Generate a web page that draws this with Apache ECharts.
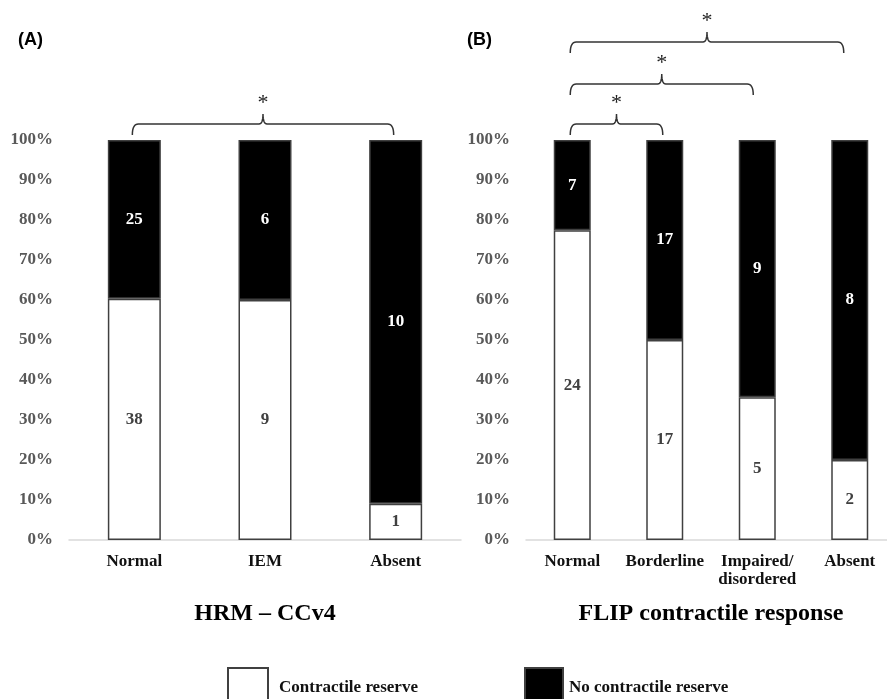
<!DOCTYPE html>
<html>
<head>
<meta charset="utf-8">
<script src="https://cdn.jsdelivr.net/npm/echarts@6/dist/echarts.min.js"></script>
<style>html,body{margin:0;padding:0;background:#fff;overflow:hidden}#c{width:910px;height:699px}</style>
</head>
<body>
<div id="c"></div>
<script>
// ---- data ----
const catsA = ['Normal', 'IEM', 'Absent'];
const reserveA = [38, 9, 1];
const noReserveA = [25, 6, 10];

const catsB = ['Normal', 'Borderline', 'Impaired/\ndisordered', 'Absent'];
const reserveB = [24, 17, 5, 2];
const noReserveB = [7, 17, 9, 8];

const yTickLabels = ['0%', '10%', '20%', '30%', '40%', '50%', '60%', '70%', '80%', '90%', '100%'];

// significance brackets: [fromIndex, toIndex]
const bracketsA = [[0, 2]];
const bracketsB = [[0, 1], [0, 2], [0, 3]];

const SERIF = '"Liberation Serif","Times New Roman",serif';
const SANS = '"Liberation Sans",Arial,sans-serif';

function share(part, other) {
  return part.map((v, i) => v / (v + other[i]) * 100);
}

const chart = echarts.init(document.getElementById('c'), null, { renderer: 'canvas' });

function barSeries(name, counts, others, xi, isBlack, bw) {
  return {
    name: name,
    type: 'bar',
    stack: 's' + xi,
    xAxisIndex: xi,
    yAxisIndex: xi,
    barWidth: bw,
    data: share(counts, others),
    itemStyle: { color: isBlack ? '#000' : '#fff', borderColor: '#404040', borderWidth: 1.5 },
    label: {
      show: true,
      position: 'inside',
      fontFamily: SERIF,
      fontWeight: 'bold',
      fontSize: 17,
      color: isBlack ? '#fff' : '#404040',
      formatter: p => String(counts[p.dataIndex])
    },
    emphasis: { disabled: true },
    animation: false
  };
}

function xAxis(cats, gi) {
  return {
    type: 'category',
    gridIndex: gi,
    data: cats,
    axisLine: { lineStyle: { color: '#d9d9d9', width: 1.5 } },
    axisTick: { show: false },
    axisLabel: { fontFamily: SERIF, fontWeight: 'bold', fontSize: 17, color: '#111', margin: 13, lineHeight: 18, interval: 0 }
  };
}

function yAxis(gi) {
  return {
    type: 'value',
    gridIndex: gi,
    min: 0, max: 100, interval: 10,
    splitLine: { show: false },
    axisLine: { show: false },
    axisTick: { show: false },
    axisLabel: {
      fontFamily: SERIF, fontWeight: 'bold', fontSize: 17, color: '#595959', margin: 16,
      formatter: v => yTickLabels[Math.round(v / 10)]
    }
  };
}

chart.setOption({
  animation: false,
  grid: [
    { left: 69, top: 140, width: 392, height: 400 },
    { left: 526, top: 140, width: 370, height: 400 }
  ],
  xAxis: [xAxis(catsA, 0), xAxis(catsB, 1)],
  yAxis: [yAxis(0), yAxis(1)],
  legend: [
    {
      data: ['Contractile reserve'], left: 222, top: 662, icon: 'rect', itemWidth: 40, itemHeight: 40,
      selectedMode: false,
      textStyle: { fontFamily: SERIF, fontWeight: 'bold', fontSize: 17, color: '#111', padding: [4, 0, 0, 6] }
    },
    {
      data: ['No contractile reserve'], left: 519, top: 662, icon: 'rect', itemWidth: 38, itemHeight: 40,
      selectedMode: false,
      textStyle: { fontFamily: SERIF, fontWeight: 'bold', fontSize: 17, color: '#111', padding: [4, 0, 0, 1] }
    }
  ],
  series: [
    barSeries('Contractile reserve', reserveA, noReserveA, 0, false, 53),
    barSeries('No contractile reserve', noReserveA, reserveA, 0, true, 53),
    barSeries('Contractile reserve', reserveB, noReserveB, 1, false, 37),
    barSeries('No contractile reserve', noReserveB, reserveB, 1, true, 37)
  ]
});

// ---- annotations ----
function quad(p0, c, p1, n) {
  const pts = [];
  for (let i = 0; i <= n; i++) {
    const t = i / n, u = 1 - t;
    pts.push([u * u * p0[0] + 2 * u * t * c[0] + t * t * p1[0], u * u * p0[1] + 2 * u * t * c[1] + t * t * p1[1]]);
  }
  return pts;
}
function bracketPoints(x1, x2, yH) {
  const yEnd = yH + 11, yTip = yH - 10, r = 6, m = (x1 + x2) / 2;
  let pts = [];
  pts = pts.concat(quad([x1, yEnd], [x1, yH], [x1 + r, yH], 8));
  pts = pts.concat(quad([m - 4, yH], [m, yH], [m, yTip], 8));
  pts = pts.concat(quad([m, yTip], [m, yH], [m + 4, yH], 8));
  pts = pts.concat(quad([x2 - r, yH], [x2, yH], [x2, yEnd], 8));
  return pts;
}

const graphics = [];
function addBracket(axisIdx, pair, yH, rightShift) {
  const x1 = chart.convertToPixel({ xAxisIndex: axisIdx }, pair[0]) - 2;
  const x2 = chart.convertToPixel({ xAxisIndex: axisIdx }, pair[1]) - rightShift;
  graphics.push({
    type: 'polyline', silent: true,
    shape: { points: bracketPoints(x1, x2, yH) },
    style: { fill: null, stroke: '#333', lineWidth: 1.5 }
  });
  graphics.push({
    type: 'text', silent: true, x: (x1 + x2) / 2, y: yH - 21,
    style: { text: '*', font: '22px ' + SERIF, fill: '#222', textAlign: 'center', textVerticalAlign: 'middle' }
  });
}
bracketsA.forEach(p => addBracket(0, p, 124, 2));
const levelsB = [124, 84, 42];
bracketsB.forEach((p, i) => addBracket(1, p, levelsB[i], 2 + 2 * i));

const panelA = chart.convertToPixel({ xAxisIndex: 0 }, 1);
graphics.push(
  { type: 'text', x: 18, y: 40, style: { text: '(A)', font: 'bold 18px ' + SANS, fill: '#000', textVerticalAlign: 'middle' } },
  { type: 'text', x: 467, y: 40, style: { text: '(B)', font: 'bold 18px ' + SANS, fill: '#000', textVerticalAlign: 'middle' } },
  { type: 'text', x: panelA, y: 614, style: { text: 'HRM – CCv4', font: 'bold 24px ' + SERIF, fill: '#000', textAlign: 'center', textVerticalAlign: 'middle' } },
  { type: 'text', x: 711, y: 614, style: { text: 'FLIP contractile response', font: 'bold 24px ' + SERIF, fill: '#000', textAlign: 'center', textVerticalAlign: 'middle' } }
);
chart.setOption({ graphic: graphics });
</script>
</body>
</html>
